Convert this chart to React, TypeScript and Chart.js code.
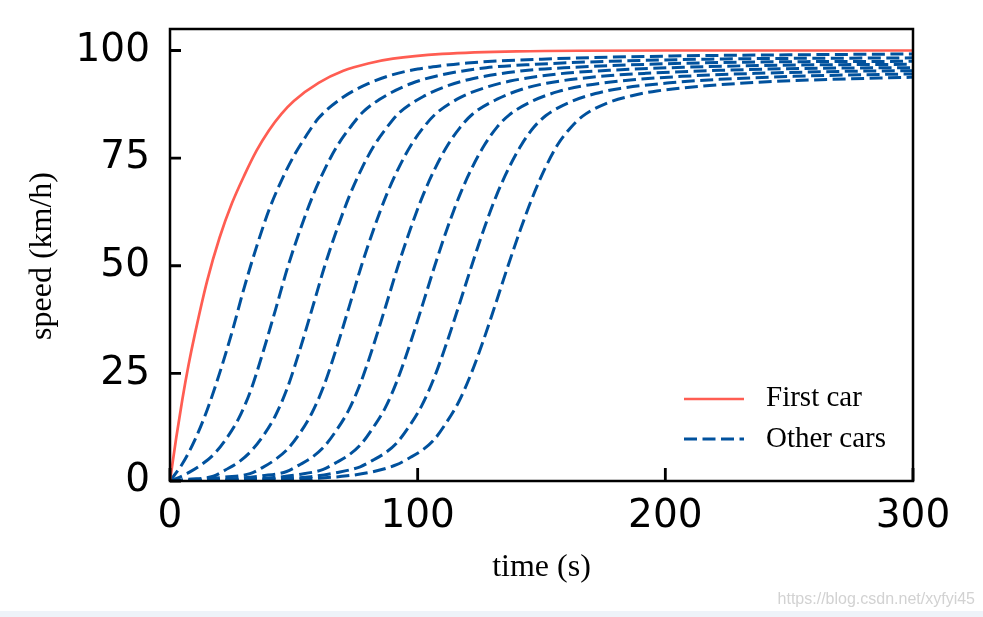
import React, { useEffect, useRef } from "react";
import { Chart, registerables } from "chart.js";

Chart.register(...registerables);

// ---- axis ticks ----
const X_TICKS = [0, 100, 200, 300];
const Y_TICKS = [0, 25, 50, 75, 100];

// ---- series: [time (s), speed (km/h)] ----
const firstCar: [number, number][] = [
  [0, 0], [2.5, 10], [5, 19], [7.5, 27], [10, 34], [15, 46.5], [20, 56.5], [25, 64.5],
  [30, 71], [35, 76.8], [40, 81.5], [45, 85.3], [50, 88.3], [60, 92.5], [70, 95.3],
  [80, 97], [90, 98.1], [110, 99.2], [140, 99.8], [200, 100], [300, 100],
];

const otherCar1: [number, number][] = [
  [0, 0], [5, 4], [10, 9.5], [15, 16.5], [20, 25], [25, 34.5], [30, 45], [35, 54.5],
  [40, 63], [45, 69.8], [50, 75.5], [55, 80.2], [60, 84.3], [70, 89.2], [80, 92.3],
  [90, 94.4], [100, 95.7], [110, 96.5], [120, 97.1], [150, 98], [200, 98.7], [250, 99], [300, 99.2],
];

const otherCar2: [number, number][] = [
  [0, 0], [2.7, 0.6], [7.7, 2.0], [12.7, 3.8], [17.7, 6.2], [22.7, 9.8], [27.7, 14.5],
  [32.7, 21.2], [37.7, 30.2], [42.7, 40.0], [47.7, 50], [52.7, 58.6], [57.7, 66.3],
  [62.7, 72.7], [67.7, 78.0], [72.7, 82.1], [77.7, 85.6], [87.7, 89.7], [97.7, 92.4],
  [107.7, 94.1], [127.7, 96.0], [147.7, 96.8], [177.7, 97.5], [217.7, 98.0], [300, 98.3],
];

const otherCar3: [number, number][] = [
  [0, 0], [7.5, 0.4], [17.5, 1.1], [22.5, 2.6], [27.5, 4.3], [32.5, 6.8], [37.5, 10.4],
  [42.5, 15.1], [47.5, 21.8], [52.5, 30.6], [57.5, 40.2], [62.5, 50], [67.5, 58.6],
  [72.5, 66.3], [77.5, 72.7], [82.5, 78.0], [87.5, 82.1], [92.5, 85.5], [102.5, 89.4],
  [112.5, 91.9], [122.5, 93.5], [142.5, 95.3], [162.5, 96.1], [192.5, 96.8], [232.5, 97.3], [300, 97.5],
];

const otherCar4: [number, number][] = [
  [0, 0], [12.3, 0.4], [22.3, 0.9], [32.3, 1.7], [37.3, 3.1], [42.3, 4.9], [47.3, 7.3],
  [52.3, 11.0], [57.3, 15.8], [62.3, 22.4], [67.3, 31.0], [72.3, 40.4], [77.3, 50],
  [82.3, 58.6], [87.3, 66.3], [92.3, 72.7], [97.3, 78.0], [102.3, 82.1], [107.3, 85.3],
  [117.3, 89.1], [127.3, 91.4], [137.3, 92.9], [157.3, 94.6], [177.3, 95.4], [207.3, 96.1],
  [247.3, 96.6], [300, 96.8],
];

const otherCar5: [number, number][] = [
  [0, 0], [12.1, 0.2], [27.1, 0.6], [37.1, 1.2], [47.1, 2.2], [52.1, 3.7], [57.1, 5.4],
  [62.1, 7.9], [67.1, 11.7], [72.1, 16.4], [77.1, 23.0], [82.1, 31.4], [87.1, 40.6],
  [92.1, 50], [97.1, 58.6], [102.1, 66.3], [107.1, 72.7], [112.1, 78.0], [117.1, 82.1],
  [122.1, 85.2], [132.1, 88.7], [142.1, 91.0], [152.1, 92.4], [172.1, 93.9], [192.1, 94.7],
  [222.1, 95.4], [262.1, 95.9], [300, 96.0],
];

const otherCar6: [number, number][] = [
  [0, 0], [16.9, 0.15], [41.9, 0.8], [51.9, 1.5], [61.9, 2.7], [66.9, 4.2], [71.9, 5.9],
  [76.9, 8.4], [81.9, 12.3], [86.9, 17.0], [91.9, 23.6], [96.9, 31.8], [101.9, 40.8],
  [106.9, 50], [111.9, 58.6], [116.9, 66.3], [121.9, 72.7], [126.9, 78.0], [131.9, 82.1],
  [136.9, 85.0], [146.9, 88.4], [156.9, 90.5], [166.9, 91.8], [186.9, 93.2], [206.9, 94.0],
  [236.9, 94.7], [276.9, 95.2], [300, 95.3],
];

const otherCar7: [number, number][] = [
  [0, 0], [21.8, 0.15], [41.8, 0.5], [56.8, 1.0], [66.8, 1.9], [76.8, 3.3], [81.8, 4.8],
  [86.8, 6.5], [91.8, 9.0], [96.8, 12.9], [101.8, 17.7], [106.8, 24.2], [111.8, 32.2],
  [116.8, 41.0], [121.8, 50], [126.8, 58.6], [131.8, 66.3], [136.8, 72.7], [141.8, 78.0],
  [146.8, 82.1], [151.8, 84.9], [161.8, 88.1], [171.8, 90.0], [181.8, 91.2], [201.8, 92.5],
  [221.8, 93.3], [251.8, 94.0], [291.8, 94.5], [300, 94.55],
];

const otherCar8: [number, number][] = [
  [0, 0], [36.5, 0.2], [56.5, 0.55], [71.5, 1.2], [81.5, 2.1], [91.5, 3.8], [96.5, 5.3],
  [101.5, 7.0], [106.5, 9.5], [111.5, 13.5], [116.5, 18.3], [121.5, 24.8], [126.5, 32.6],
  [131.5, 41.2], [136.5, 50], [141.5, 58.4], [146.5, 66.1], [151.5, 72.7], [156.5, 78.1],
  [161.5, 81.9], [166.5, 84.7], [176.5, 87.8], [186.5, 89.5], [196.5, 90.6], [216.5, 91.8],
  [236.5, 92.6], [266.5, 93.3], [300, 93.8],
];

const OTHER_CARS = [otherCar1, otherCar2, otherCar3, otherCar4, otherCar5, otherCar6, otherCar7, otherCar8];

const LEGEND_LABELS = ["First car", "Other cars"];
const X_TITLE = "time (s)";
const Y_TITLE = "speed (km/h)";

const RED = "#ff5d52";
const BLUE = "#00519d";
const DASH = [13, 5.5];

const toXY = (arr: [number, number][]) => arr.map(([x, y]) => ({ x, y }));

const framePlugin = {
  id: "framePlugin",
  afterDraw(chart: any) {
    const { ctx, chartArea: a, scales } = chart;
    ctx.save();
    // frame
    ctx.strokeStyle = "#000";
    ctx.lineWidth = 2.5;
    ctx.strokeRect(a.left, a.top, a.right - a.left, a.bottom - a.top);
    // inward ticks
    ctx.lineWidth = 2.8;
    ctx.beginPath();
    for (const v of X_TICKS) {
      const x = scales.x.getPixelForValue(v);
      ctx.moveTo(x, a.bottom);
      ctx.lineTo(x, a.bottom - 13);
    }
    for (const v of Y_TICKS) {
      const y = scales.y.getPixelForValue(v);
      ctx.moveTo(a.left, y);
      ctx.lineTo(a.left + 11, y);
    }
    ctx.stroke();

    // axis titles
    ctx.fillStyle = "#000";
    ctx.font = '32px "Liberation Serif", "Times New Roman", serif';
    ctx.textAlign = "center";
    ctx.textBaseline = "middle";
    ctx.fillText(X_TITLE, (a.left + a.right) / 2, a.bottom + 87);
    ctx.save();
    ctx.translate(a.left - 127, (a.top + a.bottom) / 2 + 1);
    ctx.rotate(-Math.PI / 2);
    ctx.fillText(Y_TITLE, 0, 0);
    ctx.restore();

    // legend
    const lx0 = a.right - 229;
    const lx1 = a.right - 169;
    const ly = [a.bottom - 82, a.bottom - 42];
    ctx.lineWidth = 2.6;
    ctx.strokeStyle = RED;
    ctx.setLineDash([]);
    ctx.beginPath();
    ctx.moveTo(lx0, ly[0]);
    ctx.lineTo(lx1, ly[0]);
    ctx.stroke();
    ctx.lineWidth = 3;
    ctx.strokeStyle = BLUE;
    ctx.setLineDash(DASH);
    ctx.beginPath();
    ctx.moveTo(lx0, ly[1]);
    ctx.lineTo(lx1, ly[1]);
    ctx.stroke();
    ctx.setLineDash([]);
    ctx.font = '29px "Liberation Serif", "Times New Roman", serif';
    ctx.textAlign = "left";
    ctx.fillStyle = "#000";
    ctx.fillText(LEGEND_LABELS[0], a.right - 147, ly[0] - 1);
    ctx.fillText(LEGEND_LABELS[1], a.right - 147, ly[1]);
    ctx.restore();
  },
};

export default function App() {
  const canvasRef = useRef<HTMLCanvasElement | null>(null);

  useEffect(() => {
    const canvas = canvasRef.current;
    if (!canvas) return;
    const datasets: any[] = [
      {
        label: LEGEND_LABELS[0],
        data: toXY(firstCar),
        borderColor: RED,
        borderWidth: 2.7,
        pointRadius: 0,
        cubicInterpolationMode: "monotone",
        fill: false,
      },
      ...OTHER_CARS.map((car) => ({
        label: LEGEND_LABELS[1],
        data: toXY(car),
        borderColor: BLUE,
        borderWidth: 3,
        borderDash: DASH,
        pointRadius: 0,
        cubicInterpolationMode: "monotone",
        fill: false,
      })),
    ];

    const chart = new Chart(canvas, {
      type: "line",
      data: { datasets },
      options: {
        animation: false,
        responsive: false,
        maintainAspectRatio: false,
        devicePixelRatio: 1,
        layout: { padding: { left: 0, top: 29, right: 70, bottom: 0 } },
        plugins: {
          legend: { display: false },
          tooltip: { enabled: false },
          title: { display: false },
        },
        scales: {
          x: {
            type: "linear",
            min: 0,
            max: 300,
            afterFit: (s: any) => {
              s.height = 136;
              s.paddingLeft = 0;
              s.paddingRight = 0;
              s.paddingTop = 0;
              s.paddingBottom = 0;
            },
            afterBuildTicks: (s: any) => {
              s.ticks = X_TICKS.map((value) => ({ value }));
            },
            grid: { display: false, drawTicks: false },
            border: { display: false },
            ticks: {
              padding: 12,
              color: "#000",
              maxRotation: 0,
              font: { family: "DejaVu Sans", size: 39 },
            },
          },
          y: {
            type: "linear",
            min: 0,
            max: 105,
            afterFit: (s: any) => {
              s.width = 170;
              s.paddingLeft = 0;
              s.paddingRight = 0;
              s.paddingTop = 0;
              s.paddingBottom = 0;
            },
            afterBuildTicks: (s: any) => {
              s.ticks = Y_TICKS.map((value) => ({ value }));
            },
            grid: { display: false, drawTicks: false },
            border: { display: false },
            ticks: {
              padding: 20,
              color: "#000",
              font: { family: "DejaVu Sans", size: 39 },
            },
          },
        },
      } as any,
      plugins: [framePlugin],
    });
    return () => chart.destroy();
  }, []);

  return (
    <div
      style={{
        position: "fixed",
        left: 0,
        top: 0,
        width: 983,
        height: 617,
        background: "#ffffff",
        overflow: "hidden",
      }}
    >
      <canvas ref={canvasRef} width={983} height={617} style={{ width: 983, height: 617, display: "block" }} />
      <div
        style={{
          position: "absolute",
          right: 8,
          top: 590,
          fontFamily: '"Liberation Sans", Arial, sans-serif',
          fontSize: 16,
          color: "#d2d2d2",
          lineHeight: "18px",
          whiteSpace: "nowrap",
        }}
      >
        https://blog.csdn.net/xyfyi45
      </div>
      <div
        style={{
          position: "absolute",
          left: 0,
          top: 611,
          width: 983,
          height: 6,
          background: "#eef3f9",
        }}
      />
    </div>
  );
}
